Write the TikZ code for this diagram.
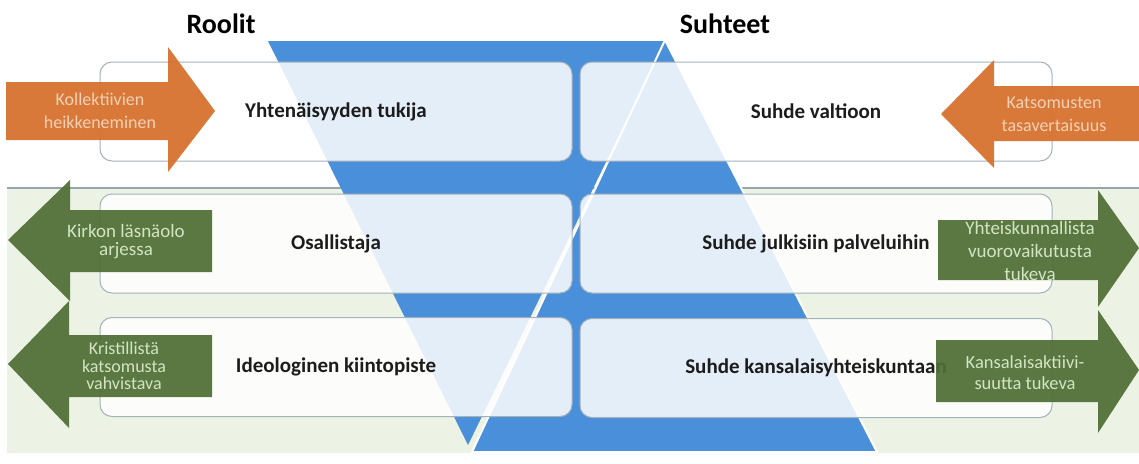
\documentclass[tikz,border=0pt]{standalone}
\usepackage{fontspec}
\setmainfont{Carlito}
\definecolor{triblue}{HTML}{4A8FDA}
\definecolor{bggreen}{HTML}{EDF3E4}
\definecolor{bgline}{HTML}{97A5AE}
\definecolor{boxline}{HTML}{A3B1BA}
\definecolor{boxtext}{HTML}{1C1C1C}
\definecolor{arrorange}{HTML}{D6722F}
\definecolor{arrgreen}{HTML}{4F6E36}
\definecolor{otextc}{HTML}{F4D0B4}
\definecolor{gtextc}{HTML}{D3E4C3}
\begin{document}
\begin{tikzpicture}[x=1pt,y=-1pt,
  rbox/.style={draw=boxline, line width=1pt, fill=white, fill opacity=0.85, text opacity=1,
    rounded corners=12pt, minimum width=472pt, minimum height=99pt, inner sep=0pt,
    font=\fontsize{21}{25}\selectfont\bfseries, text=boxtext},
  oarrow/.style={fill=arrorange, fill opacity=0.95},
  garrow/.style={fill=arrgreen, fill opacity=0.93},
  otext/.style={text=otextc, align=center, inner sep=0pt, font=\fontsize{18}{23}\selectfont},
  gtext/.style={text=gtextc, align=center, inner sep=0pt, font=\fontsize{18}{21}\selectfont},
  header/.style={font=\fontsize{28}{32}\selectfont\bfseries, text=black, inner sep=0pt}]
\useasboundingbox (0,0) rectangle (1139,463);
\fill[white] (0,0) rectangle (1139,463);
% background band
\fill[bggreen] (7,188) rectangle (1139,453);
\draw[bgline, line width=1.5pt] (7,188) -- (1139,188);
% triangles
\fill[triblue] (268,41) -- (665,41) -- (468,445) -- cycle;
\filldraw[fill=triblue, draw=white, line width=2pt, line join=round] (665,40) -- (472,452) -- (877,452) -- cycle;
% headers
\node[header] (roolit) at (221,24) {Roolit};
\node[header] (suhteet) at (725,24) {Suhteet};
% boxes
\node[rbox] (l1) at (336,111.5) {Yhtenäisyyden tukija};
\node[rbox] (r1) at (816,111.5) {Suhde valtioon};
\node[rbox] (l2) at (336,243.5) {Osallistaja};
\node[rbox] (r2) at (816,243.5) {Suhde julkisiin palveluihin};
\node[rbox] (l3) at (336,367) {Ideologinen kiintopiste};
\node[rbox] (r3) at (816,368) {Suhde kansalaisyhteiskuntaan};
% orange arrows
\fill[oarrow] (6,82) -- (168,82) -- (168,47) -- (215,111) -- (168,172) -- (168,140) -- (6,140) -- cycle;
\fill[oarrow] (1139,86) -- (994,86) -- (994,60) -- (941,114) -- (994,168) -- (994,141) -- (1139,141) -- cycle;
% green arrows
\fill[garrow] (212,210) -- (70,210) -- (70,180) -- (8,240) -- (70,301) -- (70,272) -- (212,272) -- cycle;
\fill[garrow] (212,335) -- (69,335) -- (69,301) -- (8,364) -- (69,428) -- (69,397) -- (212,397) -- cycle;
\fill[garrow] (938,220) -- (1098,220) -- (1098,190) -- (1139,248) -- (1098,307) -- (1098,280) -- (938,280) -- cycle;
\fill[garrow] (936,340) -- (1098,340) -- (1098,310) -- (1139,370) -- (1098,433) -- (1098,402) -- (936,402) -- cycle;
% arrow texts
\node[otext] (t1) at (100,111) {Kollektiivien\\heikkeneminen};
\node[otext] (t2) at (1054,114) {Katsomusten\\tasavertaisuus};
\node[gtext, font=\fontsize{19}{18}\selectfont] (t3) at (126,242) {Kirkon läsnäolo\\arjessa};
\node[gtext, font=\fontsize{18}{17.5}\selectfont] (t4) at (124,366) {Kristillistä\\katsomusta\\vahvistava};
\node[gtext, font=\fontsize{19}{23}\selectfont] (t5) at (1030,251) {Yhteiskunnallista\\vuorovaikutusta\\tukeva};
\node[gtext, font=\fontsize{18.5}{21}\selectfont] (t6) at (1025,373) {Kansalaisaktiivi-\\suutta tukeva};
\end{tikzpicture}
\end{document}
